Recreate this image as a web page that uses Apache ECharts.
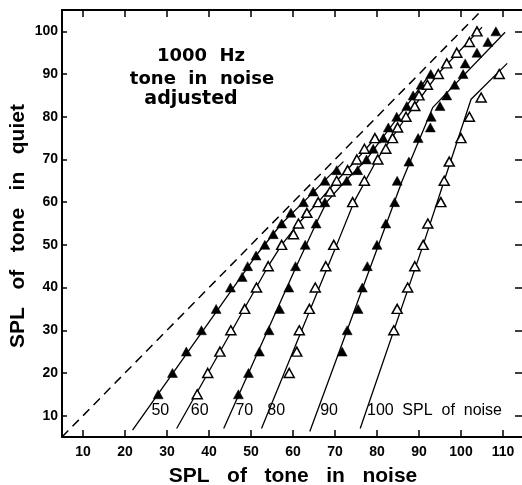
<!DOCTYPE html>
<html><head><meta charset="utf-8">
<script src="https://cdn.jsdelivr.net/npm/echarts@6/dist/echarts.min.js"></script>
<style>html,body{margin:0;padding:0;background:#fff}#c{width:522px;height:485px}</style>
</head><body><div id="c"></div>
<script>
// Axis ticks
const xTicks = [10, 20, 30, 40, 50, 60, 70, 80, 90, 100, 110];
const yTicks = [10, 20, 30, 40, 50, 60, 70, 80, 90, 100];

// Equal-SPL reference (dashed)
const diagonal = [[5, 5], [105, 105]];

// Fitted curves per noise level (SPL of noise)
const line50 = [[21.8, 6.6], [51.2, 47.5], [57.3, 55], [62.5, 60], [68, 65.5], [72, 69.5]];
const line60 = [[32.3, 7], [54.1, 45], [57.3, 50], [61.3, 55], [66, 60], [70.4, 65], [75.2, 70], [80, 75.5]];
const line70 = [[43.5, 7], [60.8, 45], [65.5, 55], [68, 60], [72.5, 65], [77.5, 70], [82, 76], [87, 82.5], [93, 90.5]];
const line80 = [[52.5, 7], [70, 49], [74.5, 60], [80, 70], [87, 80], [94.5, 90], [105, 101]];
const line90 = [[64, 6.3], [78.5, 45], [86, 65], [93.3, 82.2], [110.5, 99.8]];
const line100 = [[76, 7], [91, 50], [96, 65], [102.4, 84.1], [111, 92.5]];

// Data points (filled: 50, 70, 90; open: 60, 80, 100)
const pts50 = [[27.9, 15], [31.3, 20], [34.6, 25], [38.2, 30], [41.7, 35], [45.1, 40], [47.9, 42.5], [49.2, 45], [51.2, 47.5],
  [53.3, 50], [55.3, 52.5], [57.3, 55], [59.5, 57.5], [62.5, 60], [64.8, 62.5], [67.6, 65], [70.4, 67.5]];
const pts60 = [[37.2, 15], [39.7, 20], [42.6, 25], [45.2, 30], [48.5, 35], [51.3, 40], [54.1, 45],
  [57.3, 50], [60.1, 52.5], [61.3, 55], [63.3, 57.5], [66, 60], [68.8, 62.5], [70.4, 65], [73, 67.5], [75.2, 70], [77, 72.5], [79.5, 75]];
const pts70 = [[47, 15], [49.4, 20], [52, 25], [54.3, 30], [56.8, 35], [59, 40], [60.6, 45],
  [62.9, 50], [65.5, 55], [67.6, 60], [72.8, 65], [75.4, 67.5], [77.5, 70], [79.1, 72.5], [81.5, 75], [82.7, 77.5], [84.7, 80], [87.1, 82.5], [88.6, 85], [90.5, 87.5], [92.8, 90]];
const pts80 = [[59.1, 20], [60.9, 25], [61.5, 30], [63.9, 35], [65.3, 40], [67.8, 45], [69.7, 50],
  [74.2, 60], [77, 65], [80.2, 70], [82.1, 72.5], [83.7, 75], [84.9, 77.5], [86.9, 80], [89, 82.5], [90, 85], [92, 87.5], [94.6, 90], [96.6, 92.5], [99, 95], [102, 97.5], [103.8, 100]];
const pts90 = [[71.7, 25], [72.9, 30], [75.5, 35], [76.5, 40], [77.7, 45], [80, 50], [82.1, 55], [84.2, 60], [84.8, 65], [87.6, 69.5],
  [89.8, 75], [92.7, 77.5], [92.9, 80], [95, 82.5], [96.6, 85], [98.5, 87.5], [100.5, 90], [101, 92.5], [103.8, 95], [106.4, 97.5], [108.3, 100]];
const pts100 = [[84, 30], [84.8, 35], [87.3, 40], [89, 45], [91, 50], [92.1, 55], [95.2, 60], [96, 65], [97.2, 69.5],
  [100, 75], [102, 80], [104.8, 84.5], [109.1, 90]];

// Curve labels
const noiseLabels = [[28.4, 11.1, '50'], [37.8, 11.1, '60'], [48.4, 11.1, '70'], [56, 11.1, '80'], [68.6, 11.1, '90'], [80.8, 11.1, '100'], [97.9, 11.1, 'SPL  of  noise']];

const FONT = 'Liberation Sans';
const chart = echarts.init(document.getElementById('c'), null, {renderer: 'canvas'});

function curve(d) {
  return {type: 'line', data: d, symbol: 'none', smooth: false, z: 2,
    lineStyle: {color: '#000', width: 1.3, opacity: 1}, silent: true};
}
function marks(d, filled) {
  return {type: 'scatter', data: d, symbol: 'triangle', symbolSize: [10, 9], z: 3,
    itemStyle: filled ? {color: '#000', borderColor: '#000', borderWidth: 0.5, opacity: 1}
                      : {color: '#fff', borderColor: '#000', borderWidth: 1.5, opacity: 1}};
}

const axisLineStyle = {color: '#000', width: 2};
const tickStyle = {color: '#000', width: 1.5};

chart.setOption({
  animation: false,
  backgroundColor: '#fff',
  grid: {left: 62, top: 10, width: 462, height: 427, containLabel: false, outerBoundsMode: 'none'},
  xAxis: [{
    type: 'value', min: 5, max: 115, position: 'bottom',
    axisLine: {show: true, lineStyle: axisLineStyle},
    axisTick: {show: true, inside: true, length: 7, customValues: xTicks, lineStyle: tickStyle},
    axisLabel: {customValues: xTicks, color: '#000', fontFamily: FONT, fontWeight: 'bold', fontSize: 14, margin: 8},
    splitLine: {show: false},
    name: 'SPL   of   tone   in   noise', nameLocation: 'middle', nameGap: 31, nameMoveOverlap: false,
    nameTextStyle: {color: '#000', fontFamily: FONT, fontWeight: 'bold', fontSize: 21, lineHeight: 16, verticalAlign: 'top'}
  }, {
    type: 'value', min: 5, max: 115, position: 'top',
    axisLine: {show: true, lineStyle: axisLineStyle},
    axisTick: {show: true, inside: true, length: 7, customValues: xTicks, lineStyle: tickStyle},
    axisLabel: {show: false}, splitLine: {show: false}
  }],
  yAxis: [{
    type: 'value', min: 5, max: 105, position: 'left',
    axisLine: {show: true, lineStyle: axisLineStyle},
    axisTick: {show: true, inside: true, length: 5, customValues: yTicks, lineStyle: tickStyle},
    axisLabel: {customValues: yTicks, color: '#000', fontFamily: FONT, fontWeight: 'bold', fontSize: 14, margin: 4},
    splitLine: {show: false}
  }, {
    type: 'value', min: 5, max: 105, position: 'right',
    axisLine: {show: true, lineStyle: axisLineStyle},
    axisTick: {show: true, inside: true, length: 9, customValues: yTicks, lineStyle: tickStyle},
    axisLabel: {show: false}, splitLine: {show: false}
  }],
  series: [
    {type: 'line', data: diagonal, symbol: 'none', z: 1, silent: true,
      lineStyle: {color: '#000', width: 1.5, type: [9, 6], opacity: 1}},
    curve(line50), curve(line60), curve(line70), curve(line80), curve(line90), curve(line100),
    marks(pts50, true), marks(pts60, false), marks(pts70, true),
    marks(pts80, false), marks(pts90, true), marks(pts100, false),
    {type: 'scatter', data: noiseLabels, symbolSize: 0, z: 4, silent: true,
      itemStyle: {opacity: 1},
      label: {show: true, position: 'inside', formatter: p => p.data[2], color: '#000', opacity: 1,
        fontFamily: FONT, fontSize: 16}}
  ],
  graphic: [
    {type: 'text', x: 18, y: 226, rotation: Math.PI / 2,
      style: {text: 'SPL   of   tone   in   quiet', fill: '#000', font: 'bold 21px "Liberation Sans"', align: 'center', verticalAlign: 'middle'}},
    {type: 'text', x: 201, y: 56, style: {text: '1000  Hz', fill: '#000', font: 'bold 18px "DejaVu Sans"', align: 'center', verticalAlign: 'middle'}},
    {type: 'text', x: 202, y: 79, style: {text: 'tone  in  noise', fill: '#000', font: 'bold 18px "DejaVu Sans"', align: 'center', verticalAlign: 'middle'}},
    {type: 'text', x: 191, y: 99, style: {text: 'adjusted', fill: '#000', font: 'bold 19px "DejaVu Sans"', align: 'center', verticalAlign: 'middle'}}
  ]
});
</script></body></html>
